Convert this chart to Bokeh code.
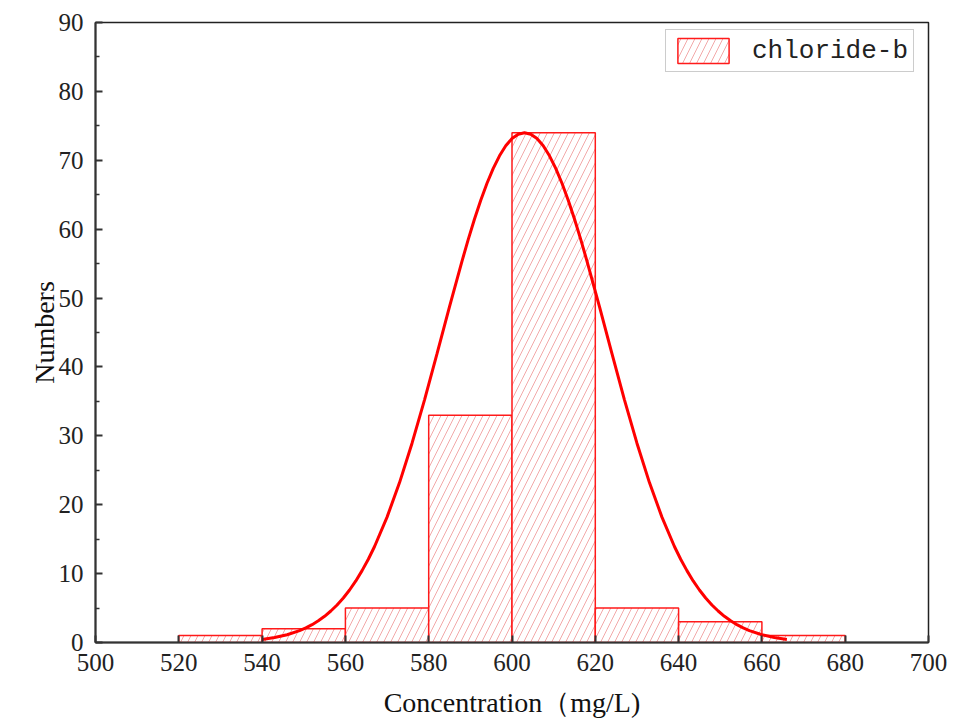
from bokeh.plotting import figure
from bokeh.models import Range1d, FixedTicker, Legend, LegendItem
from bokeh.embed import file_html
from bokeh.resources import INLINE

# ---- data ----
bin_left = [520, 540, 560, 580, 600, 620, 640, 660]
bin_right = [540, 560, 580, 600, 620, 640, 660, 680]
counts = [1, 2, 5, 33, 74, 5, 3, 1]

# fitted normal curve
curve_x = [540, 543, 546, 549, 550.5, 552, 553.5, 555, 556.5, 558, 559.5, 561, 562.5,
           564, 565.5, 567, 570, 573, 576, 579, 582, 585, 588, 589.5, 591, 592.5, 594,
           595.5, 597, 598.5, 600, 601.5, 603, 604.5, 606, 607.5, 609, 610.5, 612,
           613.5, 615, 616.5, 618, 621, 624, 627, 630, 633, 636, 639, 640.5, 642,
           643.5, 645, 646.5, 648, 649.5, 651, 652.5, 654, 655.5, 657, 660, 663, 666]
curve_y = [0.45, 0.72, 1.13, 1.73, 2.12, 2.59, 3.15, 3.80, 4.57, 5.45, 6.46, 7.62, 8.94,
           10.43, 12.09, 13.93, 18.20, 23.21, 28.93, 35.23, 41.93, 48.75, 55.37, 58.51,
           61.47, 64.20, 66.67, 68.83, 70.65, 72.10, 73.15, 73.79, 74.0, 73.79, 73.15,
           72.10, 70.65, 68.83, 66.67, 64.20, 61.47, 58.51, 55.37, 48.75, 41.93, 35.23,
           28.93, 23.21, 18.20, 13.93, 12.09, 10.43, 8.94, 7.62, 6.46, 5.45, 4.57, 3.80,
           3.15, 2.59, 2.12, 1.73, 1.13, 0.72, 0.45]

x_ticks = [500, 520, 540, 560, 580, 600, 620, 640, 660, 680, 700]
y_ticks = [0, 10, 20, 30, 40, 50, 60, 70, 80, 90]
y_minor = [5, 15, 25, 35, 45, 55, 65, 75, 85]

series_label = "chloride-b"
x_title = "Concentration（mg/L)"
y_title = "Numbers"

p = figure(width=965, height=720, output_backend="svg", toolbar_location=None,
           x_range=Range1d(500, 700), y_range=Range1d(0, 90),
           min_border_left=95, min_border_right=37, min_border_top=22,
           min_border_bottom=78)
p.background_fill_color = "white"
p.border_fill_color = "white"
p.grid.visible = False
p.outline_line_color = "#222222"
p.outline_line_width = 1.5

bars = p.quad(left=bin_left, right=bin_right, top=counts, bottom=0,
              fill_color="white", line_color="#ff1a1a", line_width=1.5,
              hatch_pattern="right_diagonal_line", hatch_color="#f09a9a",
              hatch_alpha=0.85, hatch_scale=14, hatch_weight=1)

p.line(curve_x, curve_y, line_color="#ff0000", line_width=3)

serif = "Liberation Serif"
for ax in (p.xaxis[0], p.yaxis[0]):
    ax.axis_line_color = "#333333"
    ax.axis_line_width = 2
    ax.major_tick_line_color = "#333333"
    ax.major_tick_line_width = 2
    ax.minor_tick_line_color = "#333333"
    ax.minor_tick_line_width = 1.5
    ax.major_tick_in = 7
    ax.major_tick_out = 0
    ax.minor_tick_in = 4
    ax.minor_tick_out = 0
    ax.major_label_text_font = serif
    ax.major_label_text_font_size = "25px"
    ax.major_label_text_color = "#222222"
    ax.axis_label_text_font = serif
    ax.axis_label_text_font_size = "28px"
    ax.axis_label_text_font_style = "normal"
    ax.axis_label_text_color = "#111111"

p.xaxis.ticker = FixedTicker(ticks=x_ticks, minor_ticks=[])
p.yaxis.ticker = FixedTicker(ticks=y_ticks, minor_ticks=y_minor)
p.xaxis.major_label_standoff = 11
p.yaxis.major_label_standoff = 12
p.xaxis.axis_label = x_title
p.yaxis.axis_label = y_title
p.xaxis.axis_label_standoff = 13
p.yaxis.axis_label_standoff = -4

legend = Legend(items=[LegendItem(label=series_label, renderers=[bars])],
                location=(570, 570), padding=5, margin=0, spacing=0,
                glyph_width=64, glyph_height=31, label_standoff=17,
                label_text_font="Liberation Mono", label_text_font_size="26px",
                label_text_color="#222222",
                border_line_color="#999999", border_line_width=1,
                background_fill_color="white", background_fill_alpha=1)
p.add_layout(legend)

open("out.html", "w").write(file_html(p, INLINE))
